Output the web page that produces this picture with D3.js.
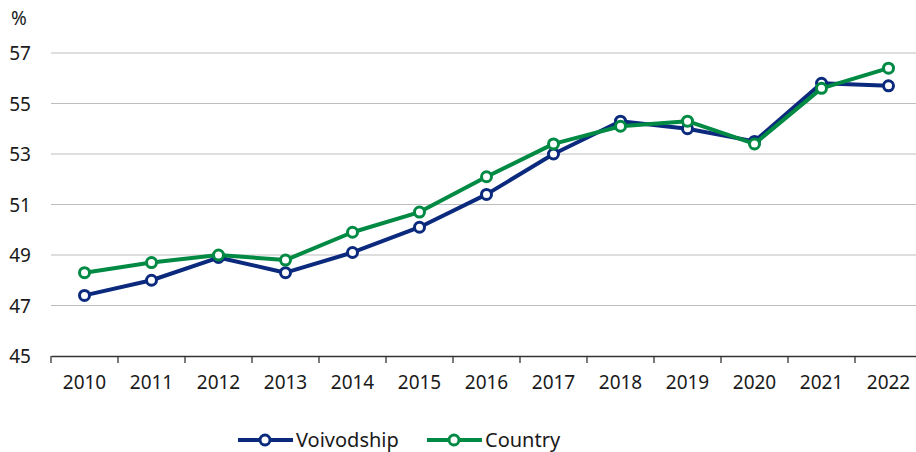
<!DOCTYPE html>
<html>
<head>
<meta charset="utf-8">
<script src="https://cdn.jsdelivr.net/npm/d3@7"></script>
<style>
  body { margin: 0; background: #fff; }
  svg text { font-family: "Noto Sans", sans-serif; fill: #1a1a1a; }
</style>
</head>
<body>
<svg id="chart" width="916" height="452"></svg>
<script>
// data
const years = [2010, 2011, 2012, 2013, 2014, 2015, 2016, 2017, 2018, 2019, 2020, 2021, 2022];
const voivodship = [47.4, 48.0, 48.9, 48.3, 49.1, 50.1, 51.4, 53.0, 54.3, 54.0, 53.5, 55.8, 55.7];
const country = [48.3, 48.7, 49.0, 48.8, 49.9, 50.7, 52.1, 53.4, 54.1, 54.3, 53.4, 55.6, 56.4];
const yTicks = [45, 47, 49, 51, 53, 55, 57];

const series = [
    { name: 'Voivodship', values: voivodship, color: '#0b2a7d' },
    { name: 'Country', values: country, color: '#008a43' }
];

const svg = d3.select('#chart');
const plotLeft = 51, bandW = 67;
const plotTop = 53, plotBottom = 356;

const x = d3.scaleBand()
    .domain(years)
    .range([plotLeft, plotLeft + bandW * years.length]);

const y = d3.scaleLinear()
    .domain([45, 57])
    .range([plotBottom, plotTop]);

// grid lines
svg.append('g')
    .selectAll('line')
    .data(yTicks.filter(d => d > 45))
    .enter()
    .append('line')
    .attr('x1', plotLeft)
    .attr('x2', 916)
    .attr('y1', d => y(d))
    .attr('y2', d => y(d))
    .attr('stroke', '#bdbdbd')
    .attr('stroke-width', 1);

// y labels
svg.append('g')
    .selectAll('text')
    .data(yTicks)
    .enter()
    .append('text')
    .attr('x', 31)
    .attr('y', d => y(d) + 7)
    .attr('text-anchor', 'end')
    .attr('font-size', 19)
    .text(d => d);

svg.append('text')
    .attr('x', 11)
    .attr('y', 25)
    .attr('font-size', 19)
    .text('%');

// x axis
const xAxis = svg.append('g')
    .attr('transform', `translate(0,${plotBottom})`)
    .call(d3.axisBottom(x).tickSize(0).tickPadding(20));
xAxis.select('.domain').attr('stroke', '#333').attr('stroke-width', 1.3);
xAxis.selectAll('text')
    .attr('font-size', 19)
    .attr('font-family', '"Noto Sans", sans-serif')
    .attr('fill', '#1a1a1a');

// tick marks at band boundaries
xAxis.selectAll('line.bound')
    .data(years)
    .enter()
    .append('line')
    .attr('class', 'bound')
    .attr('x1', d => x(d))
    .attr('x2', d => x(d))
    .attr('y1', 0)
    .attr('y2', 7)
    .attr('stroke', '#333')
    .attr('stroke-width', 1.3);

const cx = d => x(d) + x.bandwidth() / 2;

const line = d3.line()
    .x((d, i) => cx(years[i]))
    .y(d => y(d));

series.forEach(s => {
    const g = svg.append('g');
    g.append('path')
        .attr('d', line(s.values))
        .attr('fill', 'none')
        .attr('stroke', s.color)
        .attr('stroke-width', 4)
        .attr('stroke-linejoin', 'round');
    g.selectAll('circle')
        .data(s.values)
        .enter()
        .append('circle')
        .attr('cx', (d, i) => cx(years[i]))
        .attr('cy', d => y(d))
        .attr('r', 5)
        .attr('fill', '#fff')
        .attr('stroke', s.color)
        .attr('stroke-width', 3);
});

// legend
const legendX = [238, 427];
const legend = svg.append('g')
    .selectAll('g')
    .data(series)
    .enter()
    .append('g')
    .attr('transform', (d, i) => `translate(${legendX[i]},440)`);
legend.append('line')
    .attr('x1', 0).attr('x2', 55)
    .attr('stroke', d => d.color)
    .attr('stroke-width', 4);
legend.append('circle')
    .attr('cx', 27).attr('r', 5)
    .attr('fill', '#fff')
    .attr('stroke', d => d.color)
    .attr('stroke-width', 3);
legend.append('text')
    .attr('x', 58)
    .attr('y', 7)
    .attr('font-size', 20)
    .text(d => d.name);
</script>
</body>
</html>
